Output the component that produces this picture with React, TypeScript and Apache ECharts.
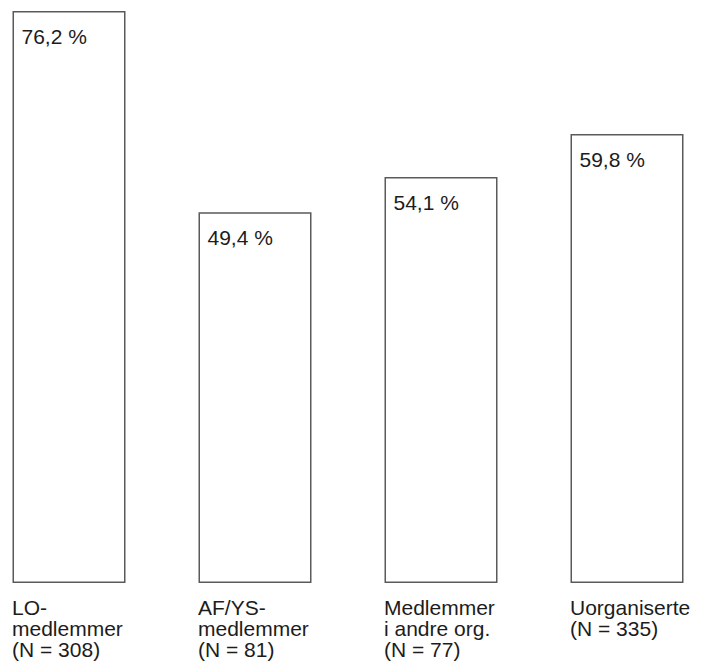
import React, { useEffect, useRef } from "react";
import * as echarts from "echarts";

const categories = [
  "LO-\nmedlemmer\n(N = 308)",
  "AF/YS-\nmedlemmer\n(N = 81)",
  "Medlemmer\ni andre org.\n(N = 77)",
  "Uorganiserte\n(N = 335)",
];
const values = [76.2, 49.4, 54.1, 59.8];
const valueLabels = ["76,2 %", "49,4 %", "54,1 %", "59,8 %"];

export default function App() {
  const ref = useRef<HTMLDivElement>(null);
  useEffect(() => {
    if (!ref.current) return;
    const chart = echarts.init(ref.current, null, { renderer: "svg" });
    chart.setOption({
      animation: false,
      backgroundColor: "#ffffff",
      textStyle: { fontFamily: "Liberation Sans" },
      grid: { left: 0, right: 0, top: 11, height: 572 },
      xAxis: {
        type: "category",
        data: categories,
        axisLine: { show: false },
        axisTick: { show: false },
        axisLabel: {
          align: "left",
          verticalAlign: "top",
          margin: 14,
          fontSize: 21,
          lineHeight: 21,
          color: "#1c1c1c",
          padding: [0, 0, 0, -57],
          interval: 0,
        },
      },
      yAxis: {
        type: "value",
        min: 0,
        max: "dataMax",
        show: false,
        splitLine: { show: false },
      },
      series: [
        {
          type: "bar",
          data: values,
          barWidth: 113,
          itemStyle: {
            color: "#ffffff",
            borderColor: "#5a5a5a",
            borderWidth: 1.5,
          },
          label: {
            show: true,
            position: [9, 15],
            align: "left",
            verticalAlign: "top",
            fontSize: 21,
            lineHeight: 21,
            color: "#1c1c1c",
            formatter: (p: any) => valueLabels[p.dataIndex],
          },
        },
      ],
    });
    return () => chart.dispose();
  }, []);
  return (
    <div
      style={{
        position: "absolute",
        left: 0,
        top: 0,
        width: 703,
        height: 663,
        overflow: "hidden",
        background: "#ffffff",
      }}
    >
      <div
        ref={ref}
        style={{ position: "absolute", left: -24.5, top: 0, width: 744, height: 663 }}
      />
    </div>
  );
}
